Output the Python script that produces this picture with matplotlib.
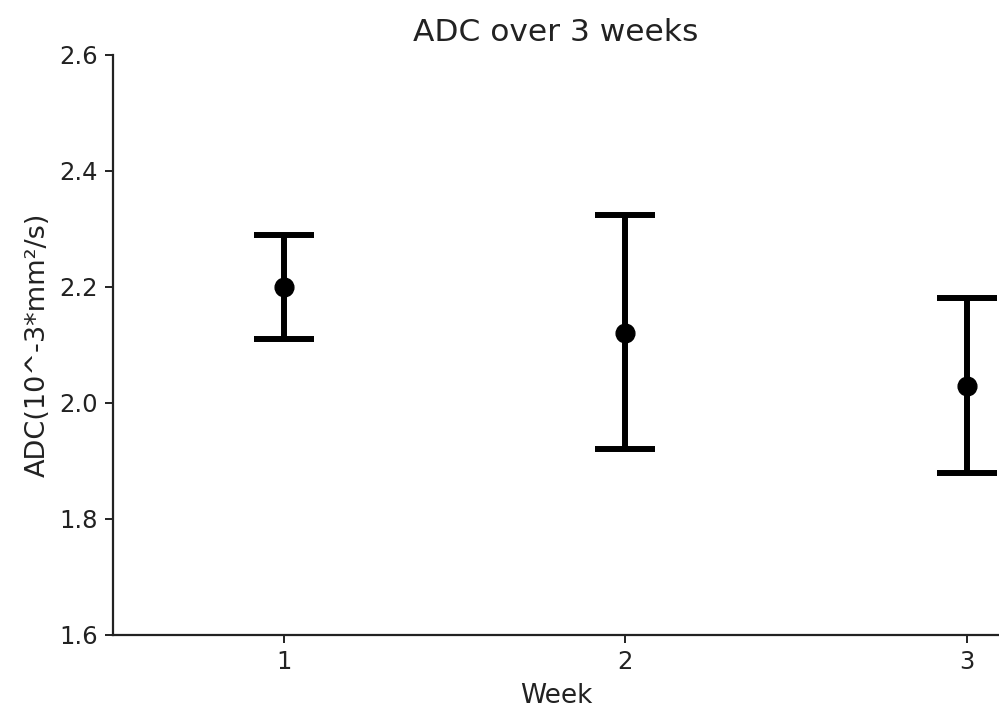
import matplotlib
matplotlib.use("Agg")
import matplotlib.pyplot as plt

weeks = [1, 2, 3]
means = [2.20, 2.12, 2.03]
lower = [2.11, 1.92, 1.88]
upper = [2.29, 2.324, 2.181]

yerr = [[m - l for m, l in zip(means, lower)], [u - m for m, u in zip(means, upper)]]

fig = plt.figure(figsize=(9.99, 7.17), dpi=100)
ax = fig.add_axes([0.1131, 0.1144, 0.887, 0.8089])
ax.errorbar(weeks, means, yerr=yerr, fmt='o', color='black', ecolor='black',
            markersize=13.5, elinewidth=4.3, capsize=21.5, capthick=4.3, linestyle='none')
ax.set_xlim(0.5, 3.094)
ax.set_ylim(1.6, 2.6)
ax.set_xticks(weeks)
ax.set_yticks([1.6, 1.8, 2.0, 2.2, 2.4, 2.6])
ax.set_yticklabels(['1.6', '1.8', '2.0', '2.2', '2.4', '2.6'])
for s in ['top', 'right']:
    ax.spines[s].set_visible(False)
for s in ['left', 'bottom']:
    ax.spines[s].set_linewidth(1.6)
    ax.spines[s].set_color('#222222')
ax.tick_params(axis='both', labelsize=17.5, length=6, width=1.4, color='#222222', labelcolor='#222222', pad=5)
ax.set_xlabel('Week', fontsize=19, color='#222222', labelpad=6)
ax.set_ylabel('ADC(10^-3*mm²/s)', fontsize=19.5, color='#222222', labelpad=6)
ax.set_title('ADC over 3 weeks', fontsize=22.5, color='#222222', pad=10)
fig.savefig('out.png', dpi=100)
